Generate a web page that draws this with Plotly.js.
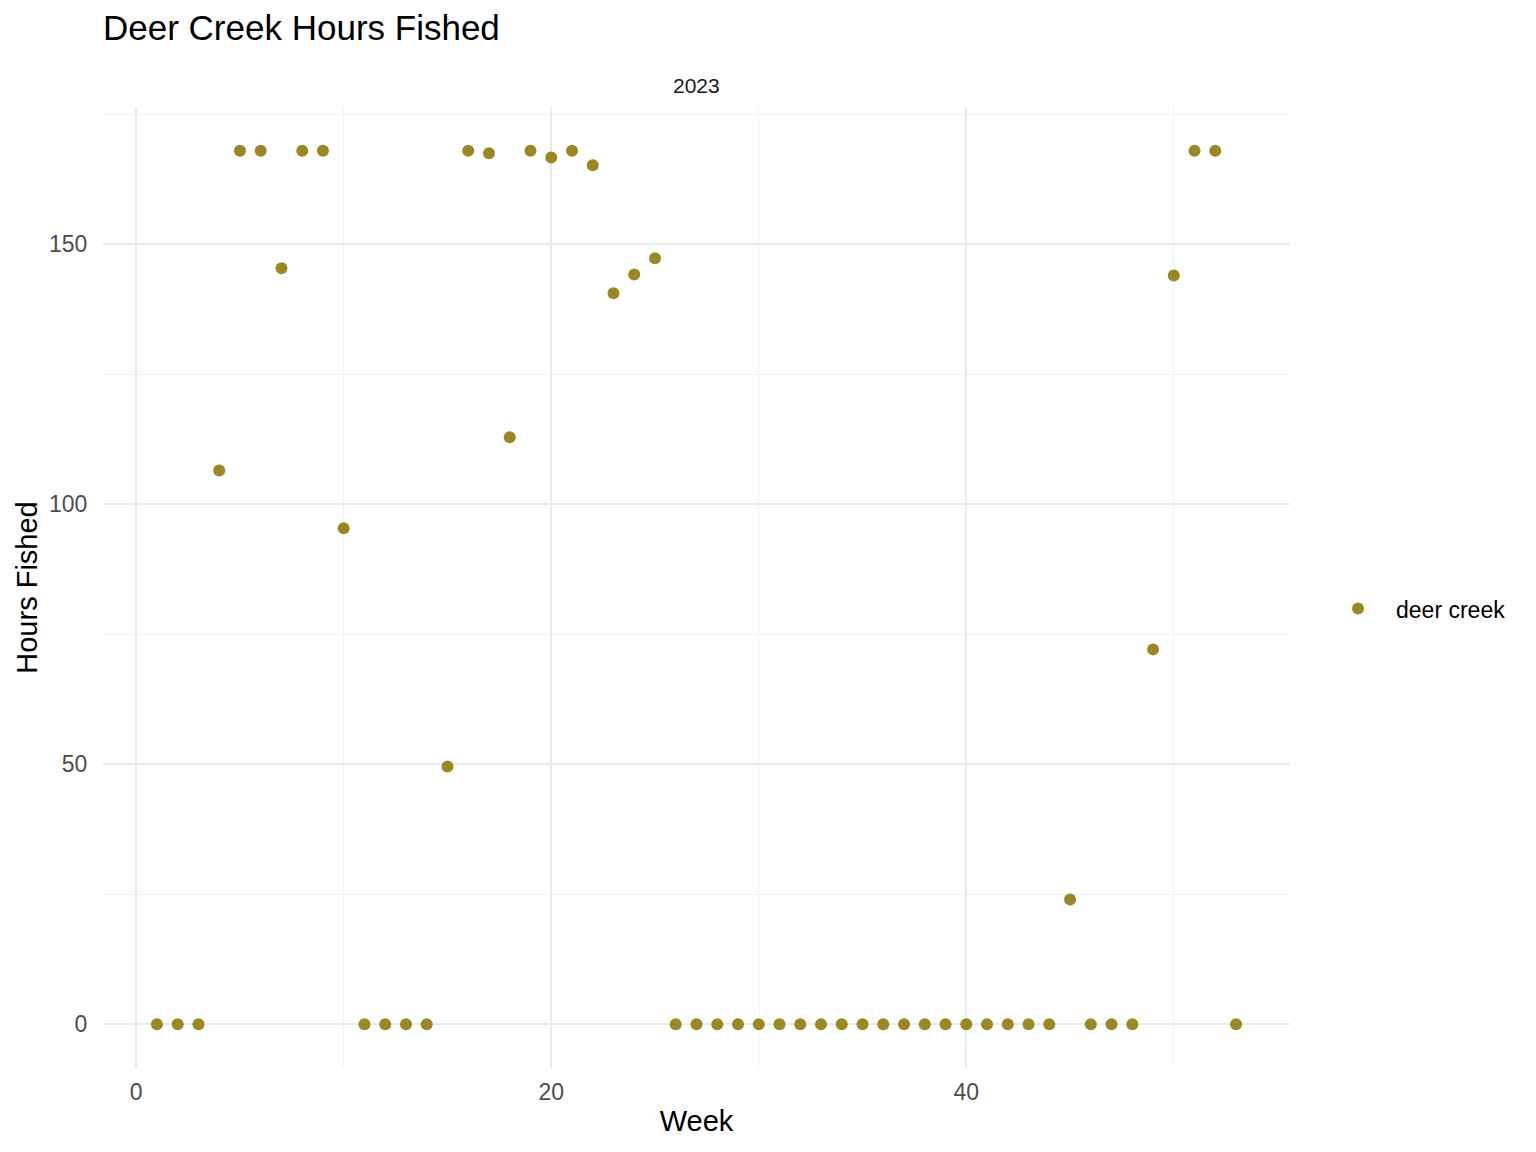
<!DOCTYPE html>
<html>
<head>
<meta charset="utf-8">
<script src="https://cdn.plot.ly/plotly-3.0.1.min.js"></script>
<style>html,body{margin:0;padding:0;background:#fff;}</style>
</head>
<body>
<div id="chart" style="width:1536px;height:1152px;"></div>
<script>
const weeks = [1,2,3,4,5,6,7,8,9,10,11,12,13,14,15,16,17,18,19,20,21,22,23,24,25,26,27,28,29,30,31,32,33,34,35,36,37,38,39,40,41,42,43,44,45,46,47,48,49,50,51,52,53];
const hoursFished = [0,0,0,106.5,168,168,145.4,168,168,95.4,0,0,0,0,49.6,168,167.5,112.9,168,166.7,168,165.2,140.6,144.2,147.3,0,0,0,0,0,0,0,0,0,0,0,0,0,0,0,0,0,0,0,24.0,0,0,0,72.1,144,168,168,0];
const seriesName = "deer creek";
const facetLabel = "2023";
const chartTitle = "Deer Creek Hours Fished";
const xTitle = "Week";
const yTitle = "Hours Fished";

const font = "Liberation Sans, Arial, Helvetica, sans-serif";
const trace = {
  x: weeks, y: hoursFished, type: "scatter", mode: "markers", name: seriesName,
  marker: {color: "#9A8822", size: 12}, showlegend: true
};
const layout = {
  width: 1536, height: 1152,
  paper_bgcolor: "#fff", plot_bgcolor: "#fff",
  margin: {l: 103, r: 246, t: 107, b: 84, pad: 0},
  font: {family: font, color: "#000"},
  title: {text: chartTitle, font: {size: 35, color: "#000", family: font},
          xref: "paper", x: 0, xanchor: "left", yref: "container", y: 1 - 28/1152, yanchor: "middle"},
  xaxis: {
    range: [-1.6, 55.6], dtick: 20, tick0: 0, zeroline: false, showline: false,
    showgrid: true, gridcolor: "#EBEBEB", gridwidth: 2,
    minor: {dtick: 10, showgrid: true, gridcolor: "#F2F2F2", gridwidth: 1},
    ticks: "outside", ticklen: 3, tickcolor: "rgba(0,0,0,0)",
    tickfont: {size: 23, color: "#4D4D4D", family: font},
    title: {text: xTitle, font: {size: 29, color: "#000", family: font}, standoff: 7}
  },
  yaxis: {
    range: [-8.4, 176.4], dtick: 50, tick0: 0, zeroline: false, showline: false,
    showgrid: true, gridcolor: "#EBEBEB", gridwidth: 2,
    minor: {dtick: 25, showgrid: true, gridcolor: "#F2F2F2", gridwidth: 1},
    ticks: "outside", ticklen: 10, tickcolor: "rgba(0,0,0,0)",
    tickfont: {size: 23, color: "#4D4D4D", family: font},
    title: {text: yTitle, font: {size: 29, color: "#000", family: font}, standoff: 2}
  },
  legend: {x: 1.0253, xanchor: "left", y: 0.478, yanchor: "middle", itemwidth: 66,
           font: {size: 23, color: "#000", family: font}, bgcolor: "rgba(0,0,0,0)"},
  annotations: [{text: facetLabel, xref: "paper", yref: "paper", x: 0.5, y: 1, yshift: 22,
                 xanchor: "center", yanchor: "middle", showarrow: false,
                 font: {size: 21, color: "#1A1A1A", family: font}}]
};
Plotly.newPlot("chart", [trace], layout, {displayModeBar: false, staticPlot: true});
</script>
</body>
</html>
